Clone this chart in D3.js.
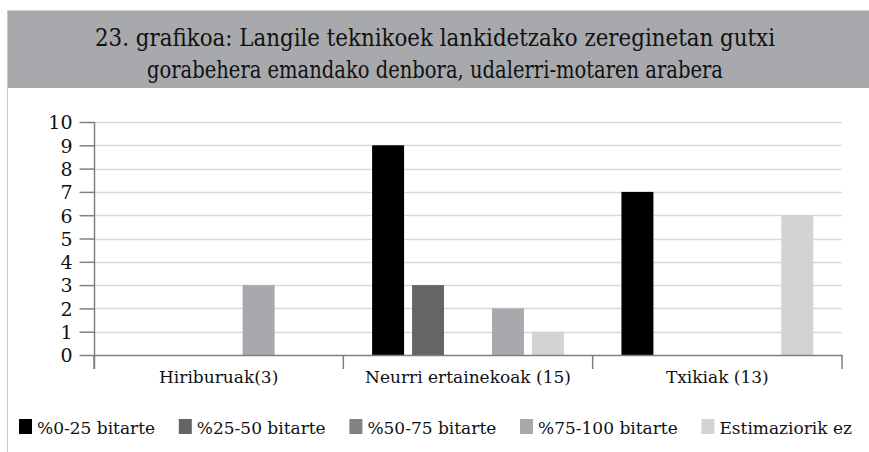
<!DOCTYPE html>
<html>
<head>
<meta charset="utf-8">
<script src="https://cdn.jsdelivr.net/npm/d3@7"></script>
</head>
<body style="margin:0">
<script>
// data
var categories = ["Hiriburuak(3)", "Neurri ertainekoak (15)", "Txikiak (13)"];
var seriesNames = ["%0-25 bitarte", "%25-50 bitarte", "%50-75 bitarte", "%75-100 bitarte", "Estimaziorik ez"];
var seriesColors = ["#000000", "#646567", "#808285", "#a7a9ac", "#d1d3d4"];
var s0_25 = [0, 9, 7];
var s25_50 = [0, 3, 0];
var s50_75 = [0, 0, 0];
var s75_100 = [3, 2, 0];
var sEstim = [0, 1, 6];
var yTicks = [0, 1, 2, 3, 4, 5, 6, 7, 8, 9, 10];
var titleLines = ["23. grafikoa: Langile teknikoek lankidetzako zereginetan gutxi",
                  "gorabehera emandako denbora, udalerri-motaren arabera"];

var allSeries = [s0_25, s25_50, s50_75, s75_100, sEstim];
var fontFam = "'DejaVu Serif'";

var svgWidth = 869, svgHeight = 452;
var svg = d3.select("body").append("svg")
  .attr("width", svgWidth)
  .attr("height", svgHeight);

// title band + frame
svg.append("rect").attr("x", 7).attr("y", 10).attr("width", svgWidth - 7).attr("height", 78)
  .attr("fill", "#a8a9ac");
svg.append("line").attr("x1", 7).attr("x2", svgWidth).attr("y1", 10.5).attr("y2", 10.5)
  .attr("stroke", "#d0d0d0");
svg.append("line").attr("x1", 7.5).attr("x2", 7.5).attr("y1", 10).attr("y2", svgHeight)
  .attr("stroke", "#c8c8c8");

var titleWidths = [680, 576];
svg.selectAll(".title").data(titleLines).enter().append("text")
  .attr("class", "title")
  .attr("x", 435)
  .attr("y", (d, i) => 46 + i * 32)
  .attr("text-anchor", "middle")
  .attr("textLength", (d, i) => titleWidths[i])
  .attr("lengthAdjust", "spacingAndGlyphs")
  .style("font-family", fontFam)
  .style("font-size", "24px")
  .attr("fill", "#111")
  .text(d => d);

// scales
var x0 = d3.scaleBand().domain(categories).range([94, 842]);
var x1 = d3.scaleBand().domain(seriesNames).range([0, x0.bandwidth()])
  .paddingInner(0.2).paddingOuter(0.72);
var y = d3.scaleLinear().domain([0, 10]).range([355, 122]);

// gridlines
svg.append("g").selectAll("line").data(yTicks.slice(1)).enter().append("line")
  .attr("x1", 94).attr("x2", 842)
  .attr("y1", d => Math.round(y(d)) + 0.5).attr("y2", d => Math.round(y(d)) + 0.5)
  .attr("stroke", "#d9d9d9").attr("stroke-width", 1.5);

// bars
var barData = [];
categories.forEach((c, ci) => {
  seriesNames.forEach((s, si) => {
    barData.push({cat: c, ser: s, color: seriesColors[si], value: allSeries[si][ci]});
  });
});
svg.append("g").selectAll("rect").data(barData.filter(d => d.value > 0)).enter().append("rect")
  .attr("x", d => x0(d.cat) + x1(d.ser))
  .attr("y", d => y(d.value))
  .attr("width", x1.bandwidth())
  .attr("height", d => y(0) - y(d.value))
  .attr("fill", d => d.color);

// y axis
var leftAxis = d3.axisLeft(y).tickValues(yTicks).tickSize(15).tickPadding(7);
var gy = svg.append("g").attr("transform", "translate(94.5,0)").call(leftAxis);
gy.attr("font-family", null).attr("font-size", null);
gy.select(".domain").remove();
gy.selectAll(".tick line").attr("stroke", "#808080").attr("stroke-width", 1.5);
gy.selectAll(".tick text").style("font-size", "19px").style("font-family", fontFam)
  .attr("fill", "#111").attr("dy", "0.36em");
svg.append("line").attr("x1", 94.5).attr("x2", 94.5).attr("y1", 122).attr("y2", 369)
  .attr("stroke", "#808080").attr("stroke-width", 1.5);

// x axis
var bottomAxis = d3.axisBottom(x0).tickSize(0).tickPadding(16);
var gx = svg.append("g").attr("transform", "translate(0,355)").call(bottomAxis);
gx.attr("font-family", null).attr("font-size", null);
gx.select(".domain").attr("stroke", "#808080").attr("stroke-width", 1.5);
gx.selectAll(".tick text").style("font-size", "17px").style("font-family", fontFam)
  .attr("fill", "#111");
// category separators
var seps = categories.map(c => x0(c)).concat([x0.range()[1]]);
svg.append("g").selectAll("line").data(seps).enter().append("line")
  .attr("x1", d => d).attr("x2", d => d)
  .attr("y1", 355).attr("y2", 369)
  .attr("stroke", "#808080").attr("stroke-width", 1.5);

// legend: spread items across 19..852
var legend = svg.append("g").attr("class", "legend").attr("transform", "translate(19,434)");
var items = seriesNames.map((s, i) => {
  var item = legend.append("g");
  item.append("rect").attr("x", 0).attr("y", -15).attr("width", 13).attr("height", 15)
    .attr("fill", seriesColors[i]);
  var t = item.append("text").attr("x", 18).attr("y", 0)
    .style("font-family", fontFam).style("font-size", "17px").attr("fill", "#111").text(s);
  return {g: item, w: 18 + t.node().getComputedTextLength()};
});
var totalW = d3.sum(items, d => d.w);
var gap = Math.max(8, (852 - 19 - totalW) / (items.length - 1));
var lx = 0;
items.forEach(d => {
  d.g.attr("transform", `translate(${lx},0)`);
  lx += d.w + gap;
});
</script>
</body>
</html>
